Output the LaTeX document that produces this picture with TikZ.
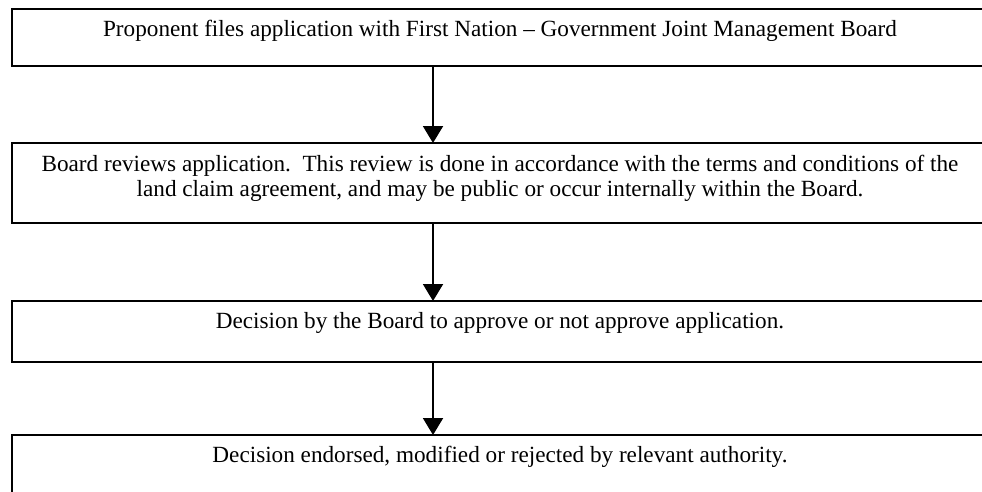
\documentclass[tikz,border=0pt]{standalone}
\usepackage{fontspec}
\setmainfont{Liberation Serif}
\usetikzlibrary{arrows.meta,positioning}
\tikzset{
  stagebox/.style={draw=black, line width=2pt, rectangle, minimum width=979pt, inner sep=0pt, anchor=north west},
  stagetext/.style={anchor=base, inner sep=0pt, align=center, font=\fontsize{23.2}{25}\selectfont},
  flowarrow/.style={draw=black, line width=2pt, -{Triangle[width=20pt,length=17pt]}, shorten >=-1pt}
}
\begin{document}
\begin{tikzpicture}[x=1pt,y=-1pt]
\useasboundingbox (0,0) rectangle (982,491);
\clip (0,0) rectangle (982,491);
\fill[white] (0,0) rectangle (982,491);
\node[stagebox, minimum height=57pt] (b1) at (11,8.3) {};
\node[stagebox, minimum height=80pt] (b2) at (11,142) {};
\node[stagebox, minimum height=61pt] (b3) at (11,300) {};
\node[stagebox, minimum height=80pt] (b4) at (11,434) {};
\coordinate (ax) at (433,0);
\node[stagetext] (t1) at (500,36) {Proponent files application with First Nation – Government Joint Management Board};
\node[stagetext, anchor=north] (t2) at (500,153.5) {\strut Board reviews application.\ \ This review is done in accordance with the terms and conditions of the\\\strut land claim agreement, and may be public or occur internally within the Board.};
\node[stagetext] (t3) at (500,328.5) {Decision by the Board to approve or not approve application.};
\node[stagetext] (t4) at (500,462.5) {Decision endorsed, modified or rejected by relevant authority.};
\draw[flowarrow] (b1.south -| ax) -- (b2.north -| ax);
\draw[flowarrow] (b2.south -| ax) -- (b3.north -| ax);
\draw[flowarrow] (b3.south -| ax) -- (b4.north -| ax);
\end{tikzpicture}
\end{document}
